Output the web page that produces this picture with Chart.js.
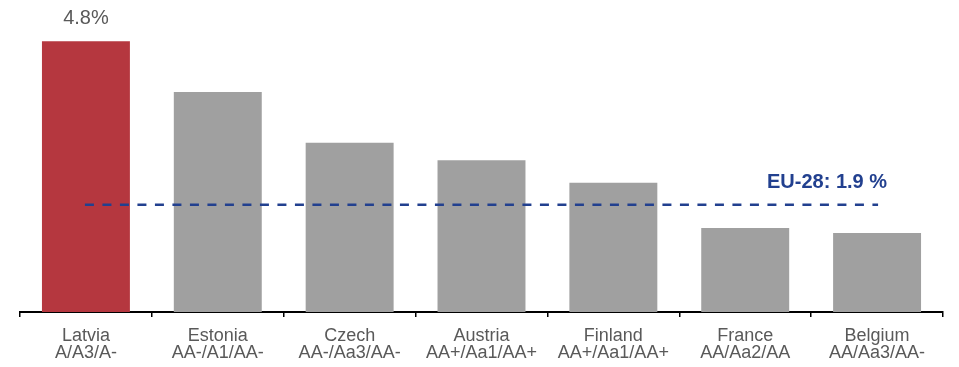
<!DOCTYPE html>
<html>
<head>
<meta charset="utf-8">
<script src="https://cdn.jsdelivr.net/npm/chart.js@4.4.1/dist/chart.umd.min.js"></script>
<style>
  html, body { margin: 0; padding: 0; background: #fff; }
  #wrap { width: 959px; height: 367px; }
</style>
</head>
<body>
<div id="wrap"><canvas id="yieldChart" width="959" height="367"></canvas></div>
<script>
const countries = ['Latvia', 'Estonia', 'Czech', 'Austria', 'Finland', 'France', 'Belgium'];
const ratings = ['A/A3/A-', 'AA-/A1/AA-', 'AA-/Aa3/AA-', 'AA+/Aa1/AA+', 'AA+/Aa1/AA+', 'AA/Aa2/AA', 'AA/Aa3/AA-'];
const values = [4.8, 3.9, 3.0, 2.69, 2.29, 1.49, 1.4];
const euAverage = 1.9;
const euLabel = 'EU-28: 1.9 %';

const barColors = values.map((v, i) => i === 0 ? '#b5373f' : '#a0a0a0');

// dashed EU line, bold label, value label over the first bar
const overlayPlugin = {
    id: 'overlay',
    afterDatasetsDraw(chart) {
        const ctx = chart.ctx;
        const x = chart.scales.x;
        const y = chart.scales.y;
        const yEu = y.getPixelForValue(euAverage);

        ctx.save();
        ctx.strokeStyle = '#22408f';
        ctx.lineWidth = 2.5;
        ctx.setLineDash([9, 8.5]);
        ctx.beginPath();
        ctx.moveTo(x.getPixelForValue(0) - 1, yEu);
        ctx.lineTo(x.getPixelForValue(countries.length - 1) + 1, yEu);
        ctx.stroke();
        ctx.setLineDash([]);

        ctx.fillStyle = '#22408f';
        ctx.font = 'bold 20px "Liberation Sans", Arial, sans-serif';
        ctx.textAlign = 'center';
        ctx.textBaseline = 'middle';
        ctx.fillText(euLabel, 827, yEu - 22);

        const bar = chart.getDatasetMeta(0).data[0];
        ctx.fillStyle = '#595959';
        ctx.font = '20px "Liberation Sans", Arial, sans-serif';
        ctx.fillText(values[0].toFixed(1) + '%', bar.x, bar.y - 23);
        ctx.restore();
    }
};

const ctx = document.getElementById('yieldChart').getContext('2d');
new Chart(ctx, {
    type: 'bar',
    data: {
        labels: countries.map((c, i) => [c, ratings[i]]),
        datasets: [{
            data: values,
            backgroundColor: barColors,
            borderWidth: 0,
            barPercentage: 0.667,
            categoryPercentage: 1
        }]
    },
    options: {
        responsive: false,
        animation: false,
        layout: { padding: { top: 30, left: 20, right: 16, bottom: 0 } },
        plugins: {
            legend: { display: false },
            tooltip: { enabled: false }
        },
        scales: {
            x: {
                offset: true,
                afterFit(scale) { scale.height = 55; },
                grid: {
                    offset: true,
                    drawOnChartArea: false,
                    drawTicks: true,
                    tickLength: 5,
                    color: '#000',
                    lineWidth: 1.5
                },
                border: { display: true, color: '#000', width: 2 },
                ticks: {
                    color: '#595959',
                    padding: 11,
                    maxRotation: 0,
                    autoSkip: false,
                    font: { family: '"Liberation Sans", Arial, sans-serif', size: 18, lineHeight: 0.92 }
                }
            },
            y: {
                display: false,
                min: 0,
                max: 5
            }
        }
    },
    plugins: [overlayPlugin]
});
</script>
</body>
</html>
